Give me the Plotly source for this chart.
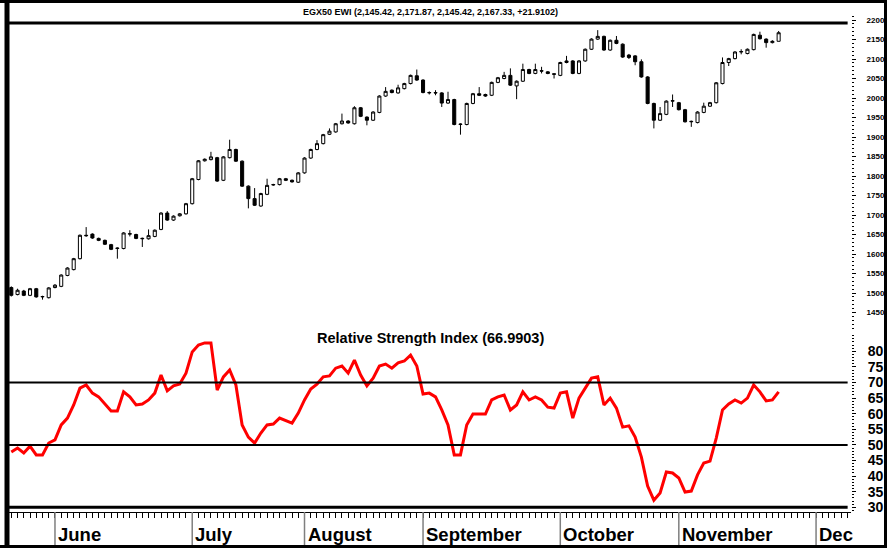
import plotly.graph_objects as go

# ---------------- data ----------------
day = list(range(124))  # trading-day index

opens = [1514, 1496, 1505, 1494, 1511, 1490, 1488, 1514, 1517, 1545,
         1560, 1588, 1648, 1651, 1640, 1635, 1624, 1614, 1614, 1651,
         1650, 1639, 1639, 1645, 1663, 1705, 1687, 1698, 1703, 1729,
         1791, 1839, 1842, 1847, 1789, 1847, 1868, 1838, 1774, 1742,
         1723, 1753, 1777, 1778, 1793, 1789, 1784, 1808, 1846, 1868,
         1883, 1907, 1913, 1934, 1941, 1934, 1975, 1951, 1943, 1963,
         2005, 2020, 2013, 2024, 2037, 2057, 2046, 2013, 2014, 2013,
         1987, 1996, 1932, 1932, 1986, 2011, 2009, 2007, 2040, 2050,
         2058, 2031, 2043, 2073, 2063, 2070, 2067, 2062, 2058, 2091,
         2095, 2063, 2095, 2125, 2151, 2158, 2123, 2148, 2138, 2110,
         2108, 2093, 2054, 1986, 1943, 1958, 1992, 1988, 1970, 1939,
         1937, 1963, 1979, 1988, 2037, 2091, 2101, 2118, 2114, 2124,
         2161, 2151, 2142, 2145.42]
highs = [1517, 1511, 1508, 1513, 1513, 1493, 1515, 1523, 1548, 1566,
         1590, 1650, 1669, 1653, 1642, 1637, 1626, 1617, 1656, 1661,
         1652, 1642, 1663, 1663, 1707, 1710, 1699, 1705, 1731, 1795,
         1841, 1845, 1862, 1849, 1851, 1893, 1870, 1840, 1776, 1769,
         1757, 1793, 1780, 1795, 1795, 1791, 1810, 1848, 1870, 1892,
         1908, 1922, 1936, 1960, 1943, 1979, 1977, 1953, 1966, 2007,
         2028, 2022, 2034, 2039, 2060, 2073, 2048, 2017, 2020, 2015,
         2016, 1998, 1935, 1988, 2013, 2028, 2011, 2042, 2054, 2067,
         2076, 2045, 2088, 2075, 2088, 2080, 2069, 2063, 2093, 2108,
         2097, 2097, 2127, 2153, 2174, 2160, 2150, 2159, 2140, 2113,
         2110, 2099, 2056, 1988, 1977, 1994, 2009, 1990, 1972, 1942,
         1966, 1988, 1990, 2041, 2104, 2103, 2120, 2125, 2127, 2165,
         2170, 2153, 2148, 2171.87]
lows = [1491, 1494, 1492, 1492, 1488, 1483, 1486, 1512, 1515, 1543,
        1558, 1586, 1644, 1639, 1633, 1623, 1610, 1588, 1612, 1645,
        1638, 1618, 1637, 1643, 1661, 1685, 1685, 1696, 1701, 1727,
        1789, 1837, 1840, 1785, 1787, 1845, 1836, 1772, 1717, 1723,
        1721, 1751, 1775, 1776, 1787, 1783, 1782, 1806, 1844, 1866,
        1881, 1905, 1911, 1932, 1934, 1932, 1951, 1930, 1941, 1961,
        2003, 2012, 2011, 2022, 2035, 2044, 2012, 2009, 2007, 1977,
        1985, 1930, 1906, 1930, 1984, 2005, 2003, 2005, 2038, 2048,
        2031, 1997, 2041, 2061, 2061, 2063, 2061, 2050, 2056, 2089,
        2061, 2061, 2093, 2123, 2149, 2121, 2121, 2138, 2103, 2100,
        2084, 2052, 1984, 1922, 1941, 1956, 1977, 1968, 1937, 1926,
        1935, 1961, 1977, 1986, 2035, 2082, 2099, 2112, 2112, 2122,
        2150, 2129, 2140, 2145.42]
closes = [1494, 1507, 1494, 1511, 1490, 1491, 1513, 1520, 1546, 1564,
          1588, 1648, 1647, 1641, 1635, 1625, 1612, 1615, 1654, 1652,
          1640, 1640, 1647, 1661, 1705, 1687, 1697, 1703, 1729, 1793,
          1839, 1843, 1849, 1787, 1849, 1868, 1838, 1774, 1742, 1725,
          1755, 1776, 1778, 1793, 1789, 1785, 1808, 1846, 1868, 1883,
          1906, 1915, 1934, 1941, 1936, 1975, 1953, 1943, 1964, 2005,
          2017, 2014, 2026, 2037, 2058, 2046, 2014, 2014, 2013, 1987,
          1996, 1932, 1933, 1986, 2011, 2007, 2005, 2040, 2052, 2058,
          2033, 2043, 2073, 2063, 2073, 2069, 2063, 2061, 2091, 2095,
          2063, 2095, 2125, 2151, 2158, 2123, 2148, 2140, 2105, 2104,
          2093, 2054, 1986, 1943, 1960, 1992, 1993, 1970, 1939, 1940,
          1964, 1979, 1988, 2039, 2091, 2101, 2118, 2119, 2125, 2163,
          2152, 2142, 2145.42, 2167.33]

rsi = [47.7, 49.0, 47.4, 49.6, 46.8, 46.8, 50.6, 51.6, 56.4, 58.6,
       62.8, 68.2, 69.2, 66.6, 65.4, 63.1, 60.9, 60.9, 67.0, 65.4,
       62.8, 63.1, 64.4, 66.6, 72.4, 67.3, 68.9, 69.5, 73.0, 79.8,
       82.0, 82.7, 82.7, 67.6, 71.8, 74.0, 69.2, 56.4, 52.5, 50.6,
       53.8, 56.4, 56.7, 58.6, 57.7, 57.0, 60.2, 64.4, 67.9, 69.5,
       71.8, 72.1, 74.6, 75.3, 73.0, 77.2, 72.4, 68.9, 71.4, 75.3,
       75.9, 74.6, 76.3, 76.9, 78.8, 75.3, 66.3, 66.6, 65.4, 61.2,
       56.4, 46.8, 46.8, 56.4, 59.9, 59.9, 59.9, 64.4, 65.4, 66.0,
       61.2, 62.8, 67.0, 64.4, 65.4, 64.4, 62.1, 61.8, 66.6, 67.0,
       58.6, 65.0, 68.2, 71.4, 71.8, 62.8, 65.0, 61.8, 55.7, 56.1,
       52.5, 46.1, 36.8, 32.3, 34.6, 41.3, 41.0, 39.4, 34.9, 35.2,
       40.4, 44.2, 44.8, 52.2, 61.2, 63.1, 64.4, 63.4, 65.0, 69.2,
       67.0, 64.1, 64.4, 66.9903]

month_names = ["June", "July", "August", "September", "October", "November", "Dec"]
month_start = [7, 29, 47, 66, 88, 107, 129]
day_ticks = list(range(0, 135))
price_ticks = list(range(1450, 2201, 50))
rsi_ticks = list(range(30, 81, 5))
rsi_levels = [70, 50, 30]
resistance_level = 2192

title_text = "EGX50 EWI (2,145.42, 2,171.87, 2,145.42, 2,167.33, +21.9102)"
rsi_title = "Relative Strength Index (66.9903)"

# ---------------- figure ----------------
FONT = "Liberation Sans, Arial, sans-serif"
W, H = 887, 548
ML, MR, MT, MB = 9, 36, 16, 36
PW = W - ML - MR
PH = H - MT - MB


def px_x(p):
    return (p - ML) / PW


def px_y(p):
    return (H - MB - p) / PH


fig = go.Figure()
fig.add_trace(go.Candlestick(
    x=day, open=opens, high=highs, low=lows, close=closes,
    increasing=dict(line=dict(color="black", width=1), fillcolor="white"),
    decreasing=dict(line=dict(color="black", width=1), fillcolor="black"),
    whiskerwidth=0, xaxis="x", yaxis="y", showlegend=False, hoverinfo="skip",
))
fig.add_trace(go.Scatter(
    x=day, y=rsi, mode="lines", line=dict(color="#ff0000", width=3),
    xaxis="x", yaxis="y2", showlegend=False, hoverinfo="skip",
))

shapes = []
shapes.append(dict(type="line", xref="paper", yref="y", x0=0, x1=0.996,
                   y0=resistance_level, y1=resistance_level,
                   line=dict(color="black", width=3)))
for lv in rsi_levels:
    shapes.append(dict(type="line", xref="paper", yref="y2", x0=0, x1=0.996,
                       y0=lv, y1=lv,
                       line=dict(color="black", width=3 if lv == 30 else 2)))
for ms in month_start:
    shapes.append(dict(type="line", xref="x", yref="paper", x0=ms, x1=ms,
                       y0=0, y1=px_y(545), line=dict(color="#7f7f7f", width=1.5)))
# outer frame
shapes.append(dict(type="line", xref="paper", yref="paper", x0=px_x(7), x1=px_x(7),
                   y0=px_y(0), y1=px_y(548), line=dict(color="black", width=5)))
shapes.append(dict(type="line", xref="paper", yref="paper", x0=px_x(0), x1=px_x(887),
                   y0=px_y(1.5), y1=px_y(1.5), line=dict(color="black", width=3)))
shapes.append(dict(type="line", xref="paper", yref="paper", x0=px_x(885.5), x1=px_x(885.5),
                   y0=px_y(0), y1=px_y(548), line=dict(color="black", width=3)))
shapes.append(dict(type="line", xref="paper", yref="paper", x0=px_x(0), x1=px_x(887),
                   y0=px_y(546.5), y1=px_y(546.5), line=dict(color="black", width=3)))

annotations = [
    dict(text=title_text, xref="paper", yref="paper", x=px_x(430), y=px_y(12),
         xanchor="center", yanchor="middle", showarrow=False,
         font=dict(family=FONT, size=9, color="black", weight="bold")),
    dict(text=rsi_title, xref="paper", yref="paper", x=px_x(430), y=px_y(338),
         xanchor="center", yanchor="middle", showarrow=False,
         font=dict(family=FONT, size=14.5, color="black", weight="bold")),
]
for name, ms in zip(month_names, month_start):
    annotations.append(dict(text=name, xref="x", yref="paper", x=ms, y=px_y(534),
                            xanchor="left", yanchor="middle", showarrow=False, xshift=1,
                            font=dict(family=FONT, size=18.5, color="black", weight="bold")))

price_top_px, price_bot_px = MT, 330
rsi_top_px = 335
k_price = 19.5 / 50.0
price_ref_px = 20.0
k_rsi = 3.12
rsi_ref_px = 382.5

fig.update_layout(
    width=W, height=H, autosize=False,
    margin=dict(l=ML, r=MR, t=MT, b=MB, pad=0, autoexpand=False),
    paper_bgcolor="white", plot_bgcolor="white",
    hovermode=False, showlegend=False,
    shapes=shapes, annotations=annotations,
    xaxis=dict(
        anchor="y2", range=[-0.37, 134.6], tickmode="array", tickvals=day_ticks,
        showticklabels=False, ticks="outside", ticklen=5, tickwidth=1, tickcolor="black",
        showgrid=False, zeroline=False, showline=True, linecolor="black", linewidth=1,
        rangeslider=dict(visible=False), fixedrange=True, automargin=False,
    ),
    yaxis=dict(
        domain=[px_y(price_bot_px), 1.0],
        range=[2200 - (price_bot_px - price_ref_px) / k_price,
               2200 + (price_ref_px - price_top_px) / k_price],
        side="right", anchor="x", tickmode="array", tickvals=price_ticks,
        ticks="outside", ticklen=4, tickwidth=1, tickcolor="black",
        minor=dict(tickmode="linear", tick0=0, dtick=10, ticks="outside", ticklen=2,
                   tickcolor="black", showgrid=False),
        tickfont=dict(family=FONT, size=8, color="black", weight="bold"),
        ticklabelstandoff=9, automargin=False,
        showgrid=False, zeroline=False, showline=False, fixedrange=True,
    ),
    yaxis2=dict(
        domain=[0.0, px_y(rsi_top_px)],
        range=[70 - (H - MB - rsi_ref_px) / k_rsi, 70 + (rsi_ref_px - rsi_top_px) / k_rsi],
        side="right", anchor="x", tickmode="array", tickvals=rsi_ticks,
        ticks="outside", ticklen=4, tickwidth=1, tickcolor="black",
        minor=dict(tickmode="linear", tick0=0, dtick=1, ticks="outside", ticklen=2,
                   tickcolor="black", showgrid=False),
        tickfont=dict(family=FONT, size=14, color="black", weight="bold"),
        ticklabelstandoff=9, automargin=False,
        showgrid=False, zeroline=False, showline=False, fixedrange=True,
    ),
)

fig.write_html("out.html", config={"displayModeBar": False},
               post_script="document.body.style.margin='0px';document.body.style.padding='0px';")
